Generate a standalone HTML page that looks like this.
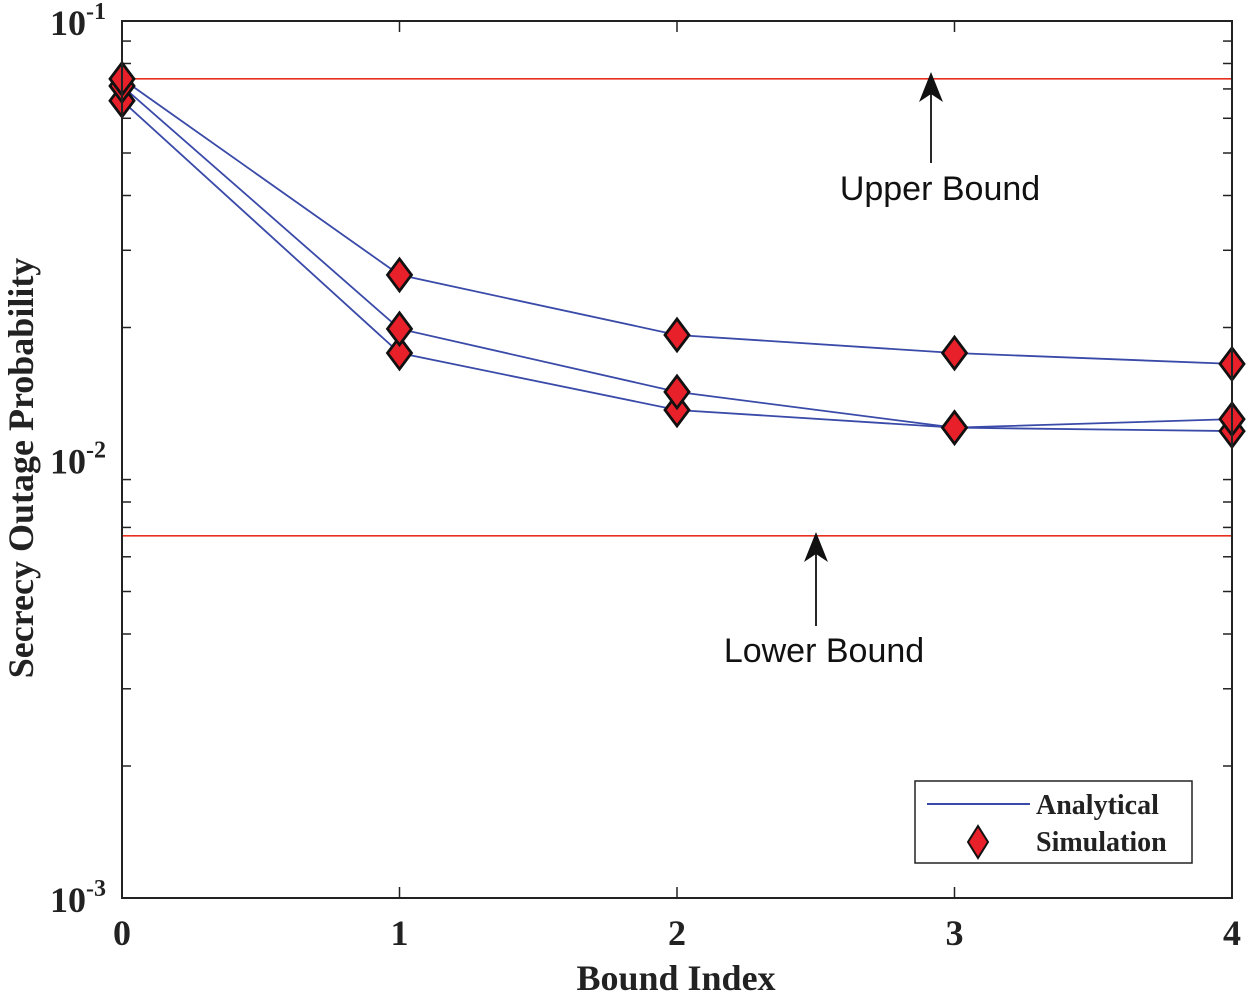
<!DOCTYPE html>
<html><head><meta charset="utf-8"><style>
body{margin:0;background:#fff}
svg{display:block}
.tk{font-family:"Liberation Serif",serif;font-weight:bold;font-size:36px;fill:#222}
.lg{font-family:"Liberation Serif",serif;font-weight:bold;font-size:28px;fill:#222}
.ann{font-family:"Liberation Sans",sans-serif;font-size:34px;fill:#111}
</style></head><body>
<svg id="c" width="1250" height="997" xmlns="http://www.w3.org/2000/svg"></svg>
<script>
const categories=[0,1,2,3,4];
const seriesA=[0.0738,0.02636,0.01923,0.01749,0.01652];
const seriesB=[0.0711,0.01986,0.01426,0.01182,0.01236];
const seriesC=[0.0658,0.01749,0.01297,0.01182,0.01161];
const upperBound=0.0738;
const lowerBound=0.0067;
const yDecades=[-1,-2,-3];
const xTickLabels=["0","1","2","3","4"];

const NS="http://www.w3.org/2000/svg";
const svg=document.getElementById('c');
const L=122,R=1232,T=21,B=898;
const xs=v=>L+(v-0)/(4-0)*(R-L);
const ys=v=>T+(-1-Math.log10(v))/2*(B-T);
function el(t,a,p){const e=document.createElementNS(NS,t);for(const k in a)e.setAttribute(k,a[k]);(p||svg).appendChild(e);return e;}

for(let d=-3;d<-1;d++){for(let m=2;m<=9;m++){const y=ys(m*Math.pow(10,d));
 let t=el('line',{x1:L,x2:L+9,y1:y,y2:y,stroke:'#222','stroke-width':1.5});
 
 t=el('line',{x1:R,x2:R-9,y1:y,y2:y,stroke:'#222','stroke-width':1.5});
 }}
categories.forEach((c,i)=>{const x=xs(c);
 let t=el('line',{x1:x,x2:x,y1:B,y2:B-11,stroke:'#222','stroke-width':1.5});
 
 t=el('line',{x1:x,x2:x,y1:T,y2:T+11,stroke:'#222','stroke-width':1.5});
 
 const lb=el('text',{x:x,y:945,'text-anchor':'middle',class:'tk'});lb.textContent=xTickLabels[i];
 
});
yDecades.forEach(d=>{const y=ys(Math.pow(10,d));
 const g=el('text',{x:50,y:y+14,class:'tk'});
 
 const a=el('tspan',{},g);a.textContent='10';
 const b=el('tspan',{dy:-16,style:'font-size:24px'},g);b.textContent=String(d);
});
[[upperBound,'upper-bound-line'],[lowerBound,'lower-bound-line']].forEach(([v,n])=>{
 const l=el('line',{x1:L,x2:R,y1:ys(v),y2:ys(v),stroke:'#e8301f','stroke-width':1.6});
 });
[seriesA,seriesB,seriesC].forEach((s,si)=>{
 const p=el('polyline',{points:s.map((v,i)=>xs(categories[i])+','+ys(v)).join(' '),fill:'none',stroke:'#3a4aa8','stroke-width':1.8});
 
});
[seriesC,seriesB,seriesA].forEach((s,si)=>{
 s.forEach((v,i)=>{const x=xs(categories[i]),y=ys(v);
  const d=el('polygon',{points:`${x},${y-16} ${x+12},${y} ${x},${y+16} ${x-12},${y}`,fill:'#e8202a',stroke:'#111','stroke-width':2.8});
  });
});
const bx=el('rect',{x:L,y:T,width:R-L,height:B-T,fill:'none',stroke:'#222','stroke-width':2});

function arrow(x,y1,y2,n){const g=el('g',{});
 el('line',{x1:x,x2:x,y1:y1,y2:y2+20,stroke:'#111','stroke-width':1.8},g);
 el('polygon',{points:`${x},${y2} ${x-12},${y2+30} ${x},${y2+22} ${x+12},${y2+30}`,fill:'#111'},g);}
arrow(931,163,72,'upper-bound-arrow');arrow(816,626,532,'lower-bound-arrow');
let a=el('text',{x:940,y:200,'text-anchor':'middle',class:'ann'});a.textContent='Upper Bound';

a=el('text',{x:824,y:662,'text-anchor':'middle',class:'ann'});a.textContent='Lower Bound';

a=el('text',{x:676,y:990,'text-anchor':'middle',class:'tk'});a.textContent='Bound Index';

a=el('text',{x:0,y:0,'text-anchor':'middle',class:'tk',transform:'translate(33,468) rotate(-90)'});a.textContent='Secrecy Outage Probability';

const lg=el('g',{});
el('rect',{x:915,y:781,width:277,height:82,fill:'#fff',stroke:'#222','stroke-width':1.5},lg);
el('line',{x1:927,x2:1030,y1:804,y2:804,stroke:'#3a4aa8','stroke-width':2},lg);
el('polygon',{points:'978,826 988,842 978,858 968,842',fill:'#e8202a',stroke:'#111','stroke-width':2},lg);
let t=el('text',{x:1036,y:814,class:'lg'},lg);t.textContent='Analytical';

t=el('text',{x:1036,y:851,class:'lg'},lg);t.textContent='Simulation';

</script>
</body></html>
